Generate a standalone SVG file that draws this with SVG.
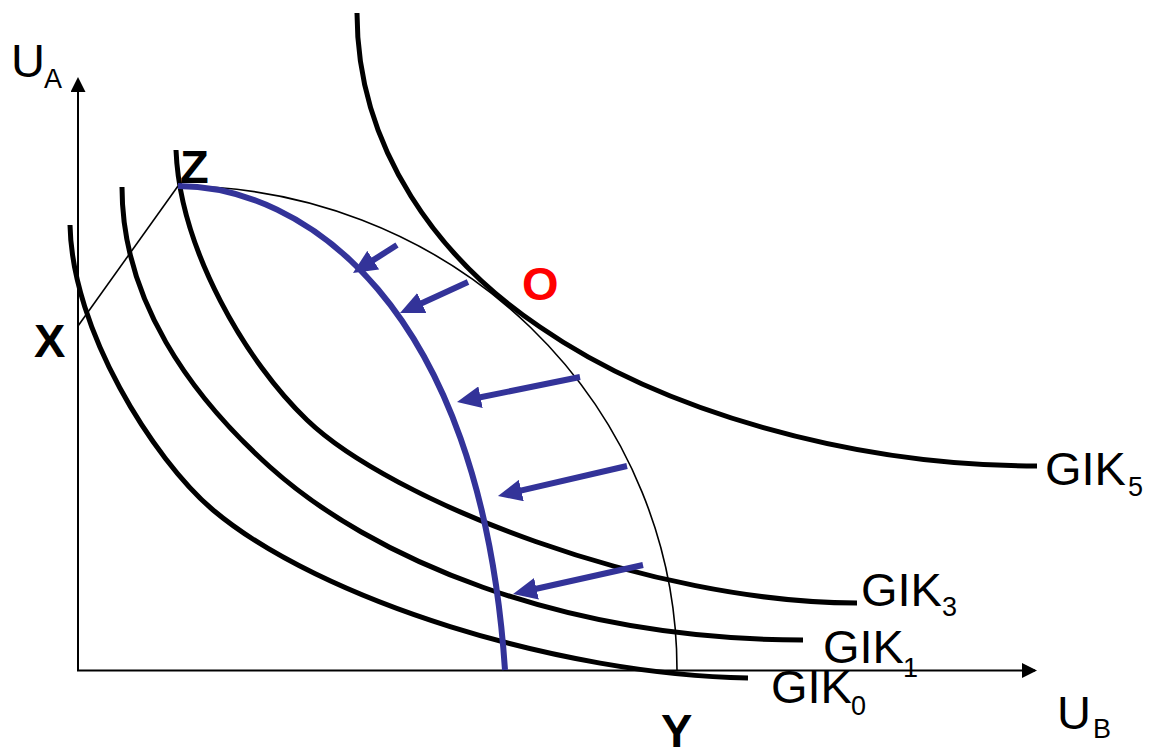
<svg xmlns="http://www.w3.org/2000/svg" width="1150" height="750" viewBox="0 0 1150 750">
  <style>
    .lbl { font-family: "Liberation Sans", Arial, sans-serif; fill: #000; }
    .big { font-size: 47px; }
    .sub { font-size: 27px; }
    .bold { font-family: "Liberation Sans", Arial, sans-serif; font-weight: bold; font-size: 47px; fill: #000; }
    .gik { fill: none; stroke: #000; stroke-width: 5; }
    .thin { fill: none; stroke: #000; stroke-width: 1.6; }
    .axis { fill: none; stroke: #000; stroke-width: 2; }
    .blue { fill: none; stroke: #333399; stroke-width: 6; }
  </style>
  <defs>
    <marker id="axhead" viewBox="0 0 15 15" refX="13" refY="7.5" markerWidth="15" markerHeight="15" markerUnits="userSpaceOnUse" orient="auto">
      <path d="M0,0 L15,7.5 L0,15 z" fill="#000"/>
    </marker>
    <marker id="bhead" viewBox="0 0 24 22" refX="14" refY="11" markerWidth="24" markerHeight="22" markerUnits="userSpaceOnUse" orient="auto">
      <path d="M0,0 L24,11 L0,22 z" fill="#333399"/>
    </marker>
  </defs>
  <rect width="1150" height="750" fill="#fff"/>

  <g id="axes">
    <line class="axis" x1="78" y1="670.5" x2="78" y2="79" marker-end="url(#axhead)"/>
    <line class="axis" x1="77" y1="670.5" x2="1035" y2="670.5" marker-end="url(#axhead)"/>
  </g>

  <g id="frontier">
    <path class="thin" d="M178,186 A499,484 0 0 1 677,670"/>
    <line class="thin" x1="78" y1="326" x2="178" y2="186"/>
  </g>

  <g id="gik0"><path class="gik" d="M70,225 C72,330 153,459 213,510 C320,600 560,675 748,678"/></g>
  <g id="gik1"><path class="gik" d="M122,187 C122,300 190,395 270,467 C370,557 560,640 803,640"/></g>
  <g id="gik3"><path class="gik" d="M176,150 C180,250 247,363 307,420 C390,500 650,603 857,603"/></g>
  <g id="gik5"><path class="gik" d="M357,13 C357,150 440,260 540,327 C660,410 850,466 1037,466"/></g>

  <g id="new-frontier"><path class="blue" d="M178,186 C300,186 480,300 505,670"/></g>

  <g id="connectors">
    <line class="blue" x1="397" y1="245" x2="361.4" y2="267.6" marker-end="url(#bhead)"/>
    <line class="blue" x1="468" y1="282" x2="409.1" y2="308.9" marker-end="url(#bhead)"/>
    <line class="blue" x1="580" y1="377" x2="466.8" y2="400" marker-end="url(#bhead)"/>
    <line class="blue" x1="627" y1="466" x2="507.7" y2="493.7" marker-end="url(#bhead)"/>
    <line class="blue" x1="643" y1="565" x2="522.8" y2="591.8" marker-end="url(#bhead)"/>
  </g>

  <g id="labels">
    <text class="lbl big" x="11" y="77">U</text><text class="lbl sub" x="44" y="88">A</text>
    <text class="lbl big" x="1057" y="729">U</text><text class="lbl sub" x="1093" y="738">B</text>
    <text class="lbl big" x="1045" y="485">GIK</text><text class="lbl sub" x="1128" y="496">5</text>
    <text class="lbl big" x="861" y="606">GIK</text><text class="lbl sub" x="942" y="616">3</text>
    <text class="lbl big" x="823" y="663">GIK</text><text class="lbl sub" x="903" y="677">1</text>
    <text class="lbl big" x="771" y="703">GIK</text><text class="lbl sub" x="851" y="715">0</text>
    <text class="bold" x="180" y="183">Z</text>
    <text class="bold" x="34" y="357">X</text>
    <text class="bold" x="661" y="747">Y</text>
    <text class="bold" x="522" y="300" style="fill:#FF0000">O</text>
  </g>
</svg>
